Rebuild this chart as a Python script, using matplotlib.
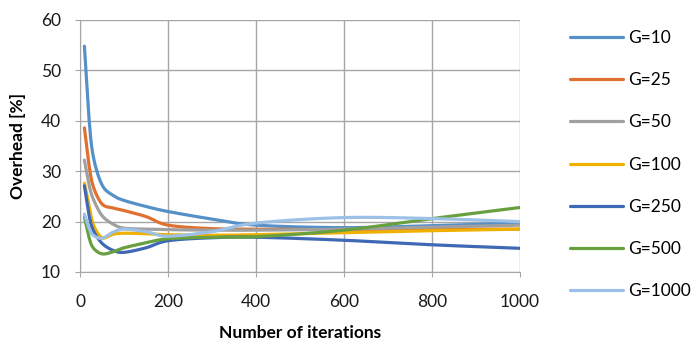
import numpy as np
import matplotlib
matplotlib.use("Agg")
import matplotlib.pyplot as plt

plt.rcParams['font.family'] = ['Lato', 'DejaVu Sans']

iterations = [10, 20, 30, 50, 75, 100, 150, 200, 300, 400, 600, 800, 1000]
series_names = ["G=10", "G=25", "G=50", "G=100", "G=250", "G=500", "G=1000"]
g10 = [54.8, 41.0, 33.0, 27.3, 25.2, 24.2, 23.0, 22.0, 20.5, 19.3, 18.8, 19.2, 19.7]
g25 = [38.6, 31.5, 27.0, 23.5, 22.7, 22.2, 21.0, 19.3, 18.6, 18.5, 18.4, 18.5, 18.5]
g50 = [32.2, 27.5, 24.5, 21.2, 19.5, 18.7, 18.5, 18.4, 18.3, 18.3, 18.5, 18.9, 19.3]
g100 = [27.6, 23.5, 19.5, 16.8, 17.5, 17.7, 17.6, 17.4, 17.3, 17.4, 17.8, 18.2, 18.5]
g250 = [27.1, 21.5, 18.3, 15.7, 14.3, 13.9, 14.8, 16.2, 16.8, 16.9, 16.3, 15.4, 14.7]
g500 = [20.9, 17.0, 14.8, 13.6, 14.0, 14.8, 15.8, 16.6, 16.9, 17.0, 18.3, 20.6, 22.8]
g1000 = [21.5, 18.8, 17.3, 16.7, 17.9, 18.5, 18.0, 17.1, 18.0, 19.7, 20.8, 20.6, 20.0]
values = [g10, g25, g50, g100, g250, g500, g1000]
colors = ['#5590C8', '#E07030', '#A0A0A0', '#F0B000', '#3F68B5', '#68A040', '#9DC0E6']


def smooth(xs, ys, sx, sy, n=40):
    """Catmull-Rom curve through the points, built in display-scaled units."""
    px = np.asarray(xs, float) * sx
    py = np.asarray(ys, float) * sy
    pts = np.column_stack([px, py])
    pts = np.vstack([pts[0], pts, pts[-1]])
    out = []
    t = np.linspace(0, 1, n)[:, None]
    for i in range(1, len(pts) - 2):
        p0, p1, p2, p3 = pts[i - 1], pts[i], pts[i + 1], pts[i + 2]
        c = 0.5 * ((2 * p1) + (-p0 + p2) * t + (2 * p0 - 5 * p1 + 4 * p2 - p3) * t ** 2
                   + (-p0 + 3 * p1 - 3 * p2 + p3) * t ** 3)
        out.append(c if i == 1 else c[1:])
    out = np.vstack(out)
    return out[:, 0] / sx, out[:, 1] / sy


W, H = 696, 340
fig = plt.figure(figsize=(W / 100, H / 100), dpi=100)
ax = fig.add_axes([80 / W, (H - 272) / H, 440 / W, 252 / H])

sx, sy = 440 / 1000, 252 / 50
for name, ys, col in zip(series_names, values, colors):
    cx, cy = smooth(iterations, ys, sx, sy)
    ax.plot(cx, cy, color=col, lw=2.3, label=name, solid_capstyle='round')

ax.set_xlim(0, 1000)
ax.set_ylim(10, 60)
ax.set_xticks(range(0, 1001, 200))
ax.set_yticks(range(10, 61, 10))
ax.grid(True, color='#A6A6A6', lw=1.0)
ax.set_axisbelow(True)
for s in ax.spines.values():
    s.set_visible(False)
for side in ('left', 'bottom'):
    ax.spines[side].set_visible(True)
    ax.spines[side].set_color('#A6A6A6')
ax.tick_params(axis='both', colors='#A6A6A6', labelcolor='#1A1A1A', labelsize=12.5, length=3.6)
ax.tick_params(axis='y', pad=10.0)
ax.tick_params(axis='x', pad=12.0)
ax.set_xlabel("Number of iterations", fontsize=12.5, fontweight='bold', va='center')
ax.set_ylabel("Overhead [%]", fontsize=12.5, fontweight='bold', va='center')
ax.xaxis.set_label_coords(0.5, (272 - 333) / 252)
ax.yaxis.set_label_coords((18 - 80) / 440, 0.5)

leg = fig.legend(loc='upper left', bbox_to_anchor=(570 / W, 1 - 30 / H), frameon=False,
                 fontsize=12.5, handlelength=3.05, handletextpad=0.3, labelspacing=1.51,
                 borderpad=0, borderaxespad=0)

fig.savefig("out.png", dpi=100)
